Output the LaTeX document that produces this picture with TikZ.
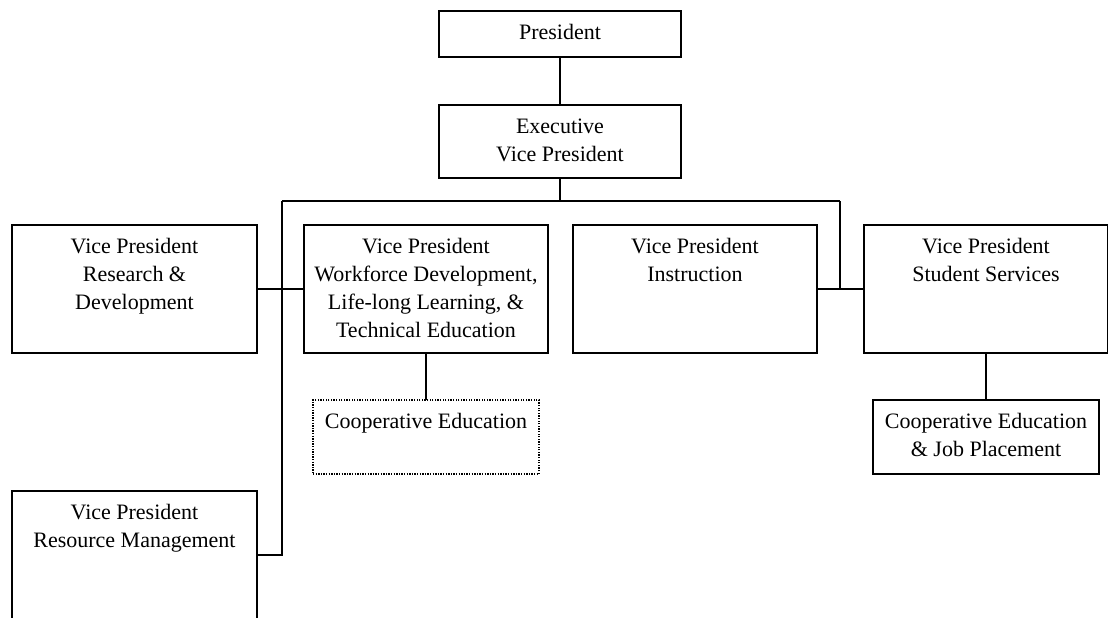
\documentclass[tikz,border=0pt]{standalone}
\usepackage{fontspec}
\setmainfont{Liberation Serif}
\begin{document}
\begin{tikzpicture}[x=1pt,y=-1pt,
  line width=1.4pt,
  box/.style={draw, rectangle, inner sep=0pt, outer sep=0pt},
  dotbox/.style={box, line width=1.3pt, dash pattern=on 1.3pt off 1.3pt},
  label/.style={anchor=north, inner sep=0pt, align=center, yshift=-13pt,
                font=\fontsize{22}{28}\selectfont}]
  \useasboundingbox (0,0) rectangle (1108,618);
  \clip (0,0) rectangle (1108,618);

  % boxes
  \node[box, minimum width=242pt, minimum height=46pt]  (pres) at (560,34) {};
  \node[box, minimum width=242pt, minimum height=73pt]  (exec) at (560,141.5) {};
  \node[box, minimum width=245pt, minimum height=128pt] (rd)   at (134.5,289) {};
  \node[box, minimum width=244pt, minimum height=128pt] (wf)   at (426,289) {};
  \node[box, minimum width=244pt, minimum height=128pt] (ins)  at (695,289) {};
  \node[box, minimum width=244pt, minimum height=128pt] (ss)   at (986,289) {};
  \node[dotbox, minimum width=226pt, minimum height=74pt] (coop) at (426,437) {};
  \node[box, minimum width=226pt, minimum height=74pt]  (job)  at (986,437) {};
  \node[box, minimum width=245pt, minimum height=128pt] (rm)   at (134.5,555) {};

  % texts
  \node[label] (presT) at (pres.north) {President};
  \node[label] (execT) at (exec.north) {Executive\\Vice President};
  \node[label] (rdT)   at (rd.north)   {Vice President\\Research \&\\Development};
  \node[label] (wfT)   at (wf.north)   {Vice President\\Workforce Development,\\Life-long Learning, \&\\Technical Education};
  \node[label] (insT)  at (ins.north)  {Vice President\\Instruction};
  \node[label] (ssT)   at (ss.north)   {Vice President\\Student Services};
  \node[label] (coopT) at (coop.north) {Cooperative Education};
  \node[label] (jobT)  at (job.north)  {Cooperative Education\\\& Job Placement};
  \node[label] (rmT)   at (rm.north)   {Vice President\\Resource Management};

  % connectors
  \coordinate (busL) at (282,201);
  \coordinate (busR) at (840,201);
  \draw (pres) -- (exec);
  \draw (exec.south) -- (exec.south |- busL);
  \draw (busL) -- (busR);
  \draw (busL) |- (rm.east);
  \draw (busR) -- (busR |- ins.east);
  \draw (rd.east) -- (wf.west);
  \draw (ins.east) -- (ss.west);
  \draw (wf) -- (coop);
  \draw (ss) -- (job);
\end{tikzpicture}
\end{document}
